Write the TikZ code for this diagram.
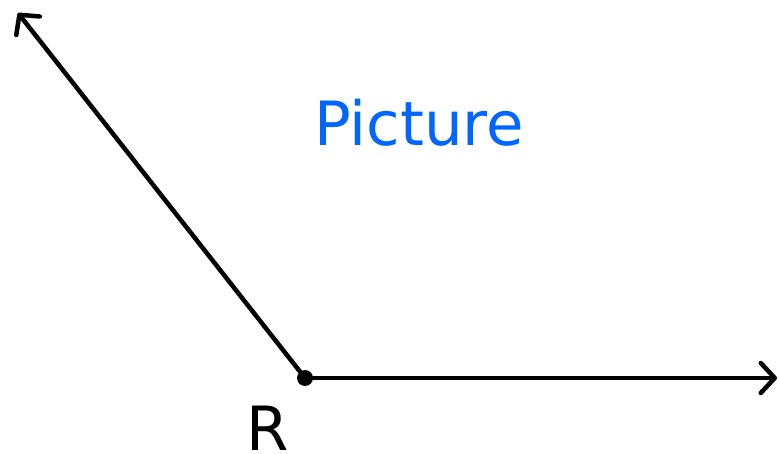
\documentclass[tikz,border=0pt]{standalone}
\usepackage{fontspec}
\setmainfont{DejaVu Sans}
\usetikzlibrary{arrows.meta}
\definecolor{picblue}{RGB}{0,102,255}
\tikzset{
  ray/.style={line width=4.5pt, -{Straight Barb[length=14pt,width=30pt,line width=4.5pt,round]}},
  lbl/.style={inner sep=0pt, font=\fontsize{61}{70}\selectfont}
}
\begin{document}
\begin{tikzpicture}[x=1pt,y=-1pt]
\useasboundingbox (0,0) rectangle (779,454);
\coordinate (R) at (305,378);
\coordinate (E) at (777,378);
\coordinate (N) at (18,13);
\draw[ray] (R) -- (E);
\draw[ray] (R) -- (N);
\fill (R) circle (8pt);
\node[lbl, anchor=base] (rl) at (268,450) {R};
\node[lbl, anchor=base, text=picblue] (pic) at (419,146) {Picture};
\end{tikzpicture}
\end{document}
